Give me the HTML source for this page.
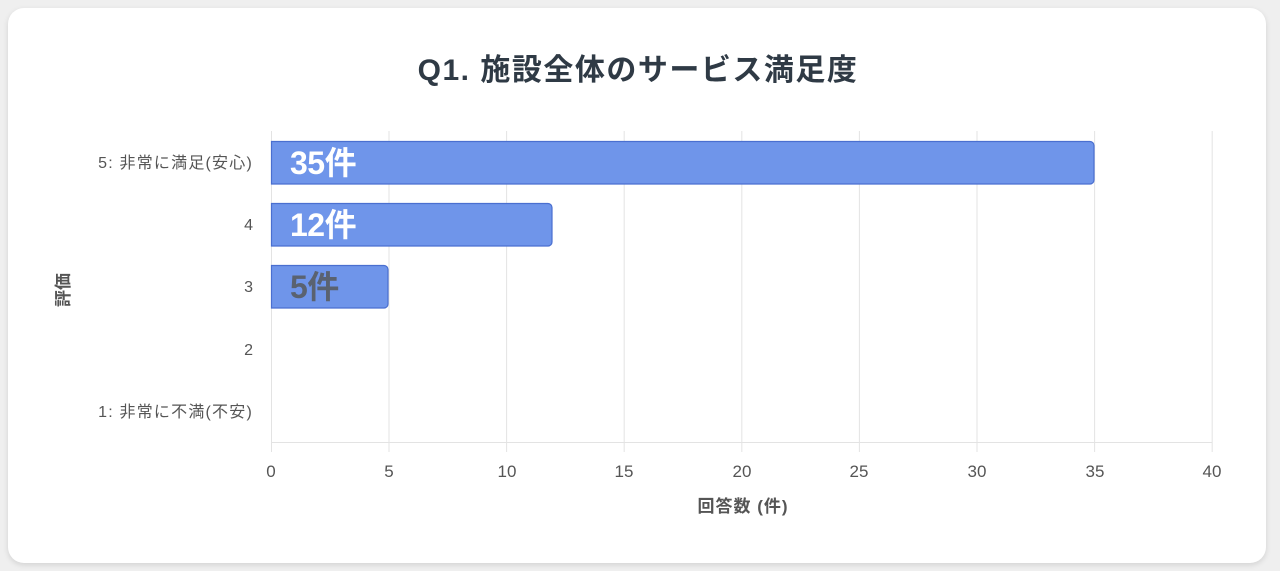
<!DOCTYPE html>
<html><head><meta charset="utf-8"><style>
html,body{margin:0;padding:0;background:#efefef;}
body{width:1280px;height:571px;position:relative;overflow:hidden;font-family:"Liberation Sans","Noto Sans CJK JP",sans-serif;}
.card{position:absolute;left:8px;top:8px;width:1258px;height:555px;background:#fff;border-radius:16px;box-shadow:0 2px 6px rgba(0,0,0,0.12);}
</style></head><body>
<div class="card"></div>
<svg width="1280" height="571" style="position:absolute;left:0;top:0" font-family="Liberation Sans, Noto Sans CJK JP, sans-serif">
<text x="638" y="80" text-anchor="middle" font-size="30" font-weight="bold" fill="#2f3a45" letter-spacing="1.5">Q1. 施設全体のサービス満足度</text>
<g stroke="#e3e3e3" stroke-width="1">
<line x1="271.5" y1="131" x2="271.5" y2="452"/>
<line x1="389" y1="131" x2="389" y2="452"/>
<line x1="506.6" y1="131" x2="506.6" y2="452"/>
<line x1="624.2" y1="131" x2="624.2" y2="452"/>
<line x1="741.8" y1="131" x2="741.8" y2="452"/>
<line x1="859.4" y1="131" x2="859.4" y2="452"/>
<line x1="977" y1="131" x2="977" y2="452"/>
<line x1="1094.6" y1="131" x2="1094.6" y2="452"/>
<line x1="1212.2" y1="131" x2="1212.2" y2="452"/>
<line x1="271" y1="442.5" x2="1212" y2="442.5"/>
</g>
<g fill="#6f95ea" stroke="#4a6fd0" stroke-width="1.2">
<path d="M271.5 141.5 H1090 a4 4 0 0 1 4 4 V180 a4 4 0 0 1 -4 4 H271.5 Z"/>
<path d="M271.5 203.5 H548 a4 4 0 0 1 4 4 V242 a4 4 0 0 1 -4 4 H271.5 Z"/>
<path d="M271.5 265.5 H384 a4 4 0 0 1 4 4 V304 a4 4 0 0 1 -4 4 H271.5 Z"/>
</g>
<g font-size="32" font-weight="bold" letter-spacing="-0.5">
<text x="290" y="174" fill="#fff">35件</text>
<text x="290" y="236" fill="#fff">12件</text>
<text x="290" y="298" fill="#5a6270">5件</text>
</g>
<g font-size="16" fill="#555" text-anchor="end">
<text x="253" y="168" letter-spacing="1.2">5: 非常に満足(安心)</text>
<text x="253" y="230">4</text>
<text x="253" y="292">3</text>
<text x="253" y="355">2</text>
<text x="253" y="417" letter-spacing="1.2">1: 非常に不満(不安)</text>
</g>
<g font-size="17" fill="#555" text-anchor="middle">
<text x="271" y="477">0</text><text x="389" y="477">5</text><text x="507" y="477">10</text>
<text x="624" y="477">15</text><text x="742" y="477">20</text><text x="859" y="477">25</text>
<text x="977" y="477">30</text><text x="1095" y="477">35</text><text x="1212" y="477">40</text>
</g>
<text x="743" y="512" text-anchor="middle" font-size="17" font-weight="bold" fill="#555" letter-spacing="1">回答数 (件)</text>
<text transform="translate(69,290) rotate(-90)" text-anchor="middle" font-size="17" font-weight="bold" fill="#555">評価</text>
</svg>
</body></html>
